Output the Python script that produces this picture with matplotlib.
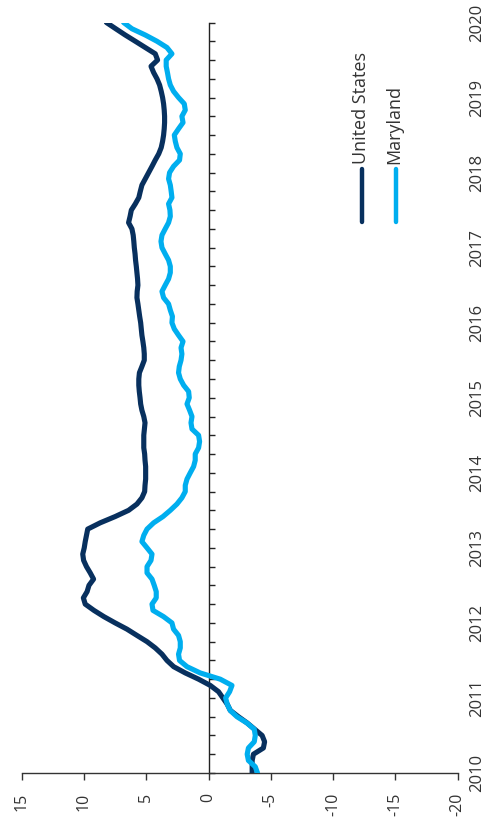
import numpy as np
import matplotlib
matplotlib.use("Agg")
import matplotlib.pyplot as plt
from matplotlib.ticker import MultipleLocator, FixedLocator

plt.rcParams['font.family'] = ['Open Sans', 'DejaVu Sans']

# Monthly observations, Jan 2010 .. Jan 2020
start_year = 2010
n_months = 121
dates = start_year + np.arange(n_months) / 12.0

united_states = [
    -3.5, -3.5, -3.5, -3.6, -4.4, -4.5, -4.3, -3.7, -3.1, -2.4, -1.75, -1.5,
    -1.15, -0.8, -0.14, 0.8, 1.87, 2.8, 3.34, 3.74, 4.28, 4.94, 5.75, 6.55,
    7.5, 8.4, 9.2, 9.9, 10.05, 9.75, 9.6, 9.23, 9.5, 9.8, 10.03, 10.1,
    9.98, 9.9, 9.8, 9.7, 8.7, 7.5, 6.42, 5.75, 5.35, 5.13, 5.1, 5.05,
    5.05, 5.05, 5.1, 5.13, 5.2, 5.2, 5.2, 5.15, 5.1, 5.2, 5.35, 5.45,
    5.5, 5.56, 5.6, 5.6, 5.55, 5.35, 5.16, 5.16, 5.2, 5.27, 5.35, 5.4,
    5.45, 5.53, 5.6, 5.67, 5.75, 5.73, 5.67, 5.7, 5.75, 5.8, 5.86, 5.9,
    5.96, 6.0, 6.05, 6.15, 6.42, 6.3, 6.2, 5.88, 5.6, 5.48, 5.35, 5.08,
    4.81, 4.54, 4.28, 4.0, 3.8, 3.69, 3.61, 3.56, 3.53, 3.53, 3.56, 3.61,
    3.69, 3.8, 3.93, 4.14, 4.41, 4.62, 4.09, 4.28, 5.08, 5.88, 6.69, 7.45,
    8.2,
]

maryland = [
    -3.93, -3.75, -3.2, -3.1, -3.2, -3.67, -3.75, -3.67, -3.08, -2.28, -1.74, -1.5,
    -1.37, -1.69, -1.88, -0.94, 0.67, 1.73, 2.33, 2.41, 2.27, 2.27, 2.41, 2.81,
    2.94, 3.61, 4.46, 4.54, 4.2, 4.2, 4.36, 4.54, 4.94, 4.94, 4.62, 4.54,
    4.94, 5.35, 5.2, 4.94, 4.41, 3.66, 3.07, 2.54, 2.14, 1.87, 1.87, 1.73,
    1.47, 1.2, 1.07, 1.07, 0.8, 0.72, 0.8, 1.33, 1.41, 1.33, 1.52, 1.73,
    1.55, 1.6, 2.0, 2.27, 2.41, 2.35, 2.21, 2.14, 2.21, 2.05, 2.41, 2.75,
    2.94, 2.9, 3.07, 3.21, 3.61, 3.74, 3.48, 3.21, 3.07, 3.07, 3.21, 3.48,
    3.74, 3.82, 3.74, 3.48, 3.21, 3.07, 3.1, 3.21, 2.94, 3.0, 3.07, 3.21,
    3.13, 2.81, 2.33, 2.27, 2.54, 2.67, 2.75, 2.41, 2.05, 2.14, 1.87, 1.95,
    2.41, 2.81, 3.07, 3.21, 3.3, 3.4, 3.4, 2.94, 3.34, 4.14, 5.08, 6.15,
    6.82,
]

series_names = ["United States", "Maryland"]
series_colors = ["#08305e", "#00aeef"]

year_ticks = list(range(2010, 2021))
value_ticks = [15, 10, 5, 0, -5, -10, -15, -20]

fig = plt.figure(figsize=(4.92, 8.33), dpi=100)
ax = fig.add_axes([21.7 / 492, 60 / 833, 436 / 492, 750.5 / 833])

ax.plot(united_states, dates, color=series_colors[0], lw=3.7,
        solid_capstyle='round', solid_joinstyle='round', zorder=3)
ax.plot(maryland, dates, color=series_colors[1], lw=3.7,
        solid_capstyle='round', solid_joinstyle='round', zorder=4)

ax.set_xlim(15, -20)
ax.set_ylim(2010, 2020)

# spines
for s in ['top', 'right']:
    ax.spines[s].set_visible(False)
ax.spines['left'].set_position(('data', 0))
ax.spines['left'].set_color('#222222')
ax.spines['left'].set_linewidth(1.0)
ax.spines['bottom'].set_color('#333333')
ax.spines['bottom'].set_linewidth(1.0)

# value axis (bottom)
ax.xaxis.set_major_locator(FixedLocator(value_ticks))
ax.set_xticklabels([str(v) for v in value_ticks], rotation=90,
                   fontsize=11.5, color='#333333')
ax.tick_params(axis='x', direction='out', length=5, width=1.0,
               color='#333333', pad=9)

# year axis: ticks on the zero line, labels on the right
ax.yaxis.set_major_locator(FixedLocator(year_ticks))
ax.yaxis.set_minor_locator(MultipleLocator(0.25))
ax.set_yticklabels([str(y) for y in year_ticks], rotation=90,
                   fontsize=12, color='#333333', va='center')
ax.tick_params(axis='y', which='both', left=True, right=False,
               labelleft=False, labelright=True, direction='in',
               length=4, width=1.0, color='#222222', pad=8)

# legend (rotated, drawn manually)
for i, (name, col) in enumerate(zip(series_names, series_colors)):
    xa = (362 + 34 * i - 21.7) / 436
    ax.plot([xa, xa], [(773 - 222) / 750.5, (773 - 169) / 750.5],
            transform=ax.transAxes, color=col, lw=3.2,
            solid_capstyle='round', clip_on=False)
    ax.text(xa - 1.5 / 436, (773 - 164) / 750.5, name, transform=ax.transAxes,
            rotation=90, ha='center', va='bottom', fontsize=13,
            color='#333333', rotation_mode='default')

fig.savefig("out.png", dpi=100)
